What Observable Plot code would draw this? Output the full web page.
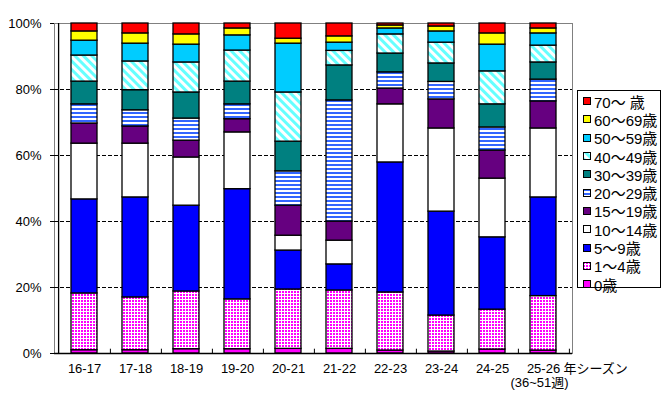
<!DOCTYPE html>
<html>
<head>
<meta charset="utf-8">
<script src="https://cdn.jsdelivr.net/npm/d3@7"></script>
<script src="https://cdn.jsdelivr.net/npm/@observablehq/plot@0.6"></script>
<style>
  html, body { margin: 0; padding: 0; background: white; }
  #wrap { position: relative; width: 664px; height: 395px; }
  #legend {
    position: absolute; left: 577px; top: 90px; width: 84px; height: 198px;
    border: 1px solid black; box-sizing: border-box; background: white;
    font-family: 'Liberation Sans', 'Noto Sans CJK JP', sans-serif; font-size: 15px;
    padding-top: 1px;
  }
  .item { height: 18.3px; display: flex; align-items: center; white-space: nowrap; }
  .item svg { margin-left: 5px; margin-right: 3px; flex: none; }
</style>
</head>
<body>
<svg width="0" height="0" style="position:absolute">
  <defs>
    <pattern id="pDots" patternUnits="userSpaceOnUse" width="3" height="3">
      <rect width="3" height="3" fill="white"></rect>
      <rect width="2" height="2" fill="#FF00FF"></rect>
    </pattern>
    <pattern id="pHoriz" patternUnits="userSpaceOnUse" width="4" height="4">
      <rect width="4" height="4" fill="white"></rect>
      <rect width="4" height="2" fill="#3366FF"></rect>
    </pattern>
    <pattern id="pDiag" patternUnits="userSpaceOnUse" width="6" height="6" patternTransform="rotate(-45)">
      <rect width="6" height="6" fill="white"></rect>
      <rect width="3" height="6" fill="#66FFFF"></rect>
    </pattern>
  </defs>
</svg>
<div id="wrap"><div id="legend"></div></div>
<script>
const seasons = ["16-17","17-18","18-19","19-20","20-21","21-22","22-23","23-24","24-25","25-26"];
const ages = ["0歳","1～4歳","5～9歳","10～14歳","15～19歳","20～29歳","30～39歳","40～49歳","50～59歳","60～69歳","70～ 歳"];
const fills = ["#FF00FF","url(#pDots)","#0000FF","#FFFFFF","#660080","url(#pHoriz)","#008080","url(#pDiag)","#00CCFF","#FFFF00","#FF0000"];

const age0     = [1.0, 1.0, 1.3, 1.3, 1.4, 1.4, 0.9, 0.6, 1.2, 0.9];
const age1_4   = [17.2,16.0,17.5,15.1,18.0,17.7,17.6,10.9,12.1,16.5];
const age5_9   = [28.5,30.3,26.0,33.4,11.8, 7.9,39.4,31.5,21.9,29.9];
const age10_14 = [16.9,16.3,14.6,17.2, 4.5, 7.2,17.6,25.2,17.8,20.9];
const age15_19 = [6.1, 5.2, 5.1, 4.0, 9.1, 5.8, 4.8, 8.8, 8.5, 8.2];
const age20_29 = [5.8, 4.9, 6.7, 4.5,10.4,36.7, 4.9, 5.3, 7.0, 6.6];
const age30_39 = [6.9, 6.1, 7.9, 6.9, 9.0,10.6, 5.7, 5.6, 7.0, 5.2];
const age40_49 = [7.9, 8.7, 9.1, 9.4,14.9, 4.4, 5.8, 6.3,10.0, 5.1];
const age50_59 = [4.5, 5.4, 5.4, 4.6,14.8, 2.5, 1.8, 3.4, 8.1, 3.7];
const age60_69 = [2.8, 3.1, 3.1, 2.1, 1.5, 1.9, 0.9, 1.5, 3.4, 1.5];
const age70    = [2.4, 3.0, 3.3, 1.5, 4.6, 3.9, 0.6, 0.9, 3.0, 1.5];
const series = [age0, age1_4, age5_9, age10_14, age15_19, age20_29, age30_39, age40_49, age50_59, age60_69, age70];

const yTicks = [0, 20, 40, 60, 80, 100];
const gridValues = [20, 40, 60, 80];

const data = [];
seasons.forEach((s, i) => ages.forEach((a, j) => data.push({season: s, age: a, value: series[j][i]})));

const W = 664, H = 395, mL = 54, mR = 92, mT = 23, mB = 42;
const half = (W - mL - mR) / seasons.length / 2;
const font = "'Liberation Sans', 'Noto Sans CJK JP', sans-serif";

const chart = Plot.plot({
  width: W, height: H,
  marginLeft: mL, marginRight: mR, marginTop: mT, marginBottom: mB,
  style: {fontSize: "13px", fontFamily: font, color: "black", background: "white"},
  x: {domain: seasons, type: "band", paddingInner: 0.5, paddingOuter: 0.25, label: null},
  y: {domain: [0, 100], label: null},
  color: {domain: ages, range: fills, type: "ordinal"},
  marks: [
    Plot.frame({stroke: "#808080"}),
    Plot.ruleY(gridValues, {stroke: "black", strokeDasharray: "4,2", strokeWidth: 1}),
    Plot.barY(data, Plot.stackY({x: "season", y: "value", fill: "age", order: null, stroke: "black", strokeWidth: 1.3})),
    Plot.ruleY([0], {stroke: "black", strokeWidth: 1.3}),
    Plot.ruleX([seasons[0]], {x: d => d, dx: -half, y1: 0, y2: 100, stroke: "black", strokeWidth: 1.3}),
    Plot.ruleX(seasons, {x: d => d, dx: half, y1: 0, y2: 1.3, stroke: "black"}),
    Plot.axisY({ticks: yTicks, tickSize: 4, tickPadding: 9, tickFormat: d => d + "%", label: null, fontSize: 13}),
    Plot.axisX({tickSize: 0, tickPadding: 10, label: null, fontSize: 13}),
    Plot.text([seasons[seasons.length - 1]], {x: d => d, text: ["年シーズン"], frameAnchor: "bottom", lineAnchor: "top", textAnchor: "start", dx: 20, dy: 10, fontSize: 13}),
    Plot.text([seasons[seasons.length - 1]], {x: d => d, text: ["(36~51週)"], frameAnchor: "bottom", lineAnchor: "top", dx: -4, dy: 24, fontSize: 13})
  ]
});
document.getElementById("wrap").prepend(chart);

const legend = document.getElementById("legend");
for (let j = ages.length - 1; j >= 0; j--) {
  const item = document.createElement("div");
  item.className = "item";
  item.innerHTML = `<svg width="8" height="8"><rect x="0.5" y="0.5" width="7" height="7" fill="${fills[j]}" stroke="black" stroke-width="1"></rect></svg><span>${ages[j]}</span>`;
  legend.appendChild(item);
}
</script>
</body>
</html>
